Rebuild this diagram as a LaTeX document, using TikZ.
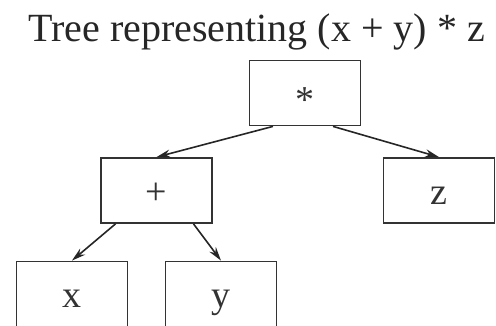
\documentclass[tikz,border=0pt]{standalone}
\usepackage{fontspec}
\setmainfont{Liberation Serif}
\usetikzlibrary{arrows.meta, positioning}

\begin{document}
\begin{tikzpicture}[
    x=1pt, y=1pt,
    term/.style={rectangle, draw=black!80, line width=1.8pt, minimum width=111pt, minimum height=65pt, inner sep=0pt, text height=28pt, text depth=0pt, text=black!80, font=\fontsize{38}{44}\selectfont},
    branch/.style={draw=black!85, line width=1.6pt, -{Stealth[length=14pt, width=8pt]}}
]
    \useasboundingbox (0,0) rectangle (496,326);

    % 标题
    \node[anchor=base, font=\fontsize{40}{46}\selectfont, text=black!85] (title) at (256.5, 284) {Tree representing (x + y) * z};

    % 结点
    \node[term] (mul) at (305, 233) {\raisebox{-6pt}{*}};
    \node[term] (plus) at (156.5, 135.5) {+};
    \node[term] (z) at (439, 135.5) {z};
    \node[term] (x) at (72, 32) {x};
    \node[term] (y) at (221, 32) {y};

    % 边
    \draw[branch] ([xshift=-32pt]mul.south) -- (plus.north);
    \draw[branch] ([xshift=28pt]mul.south) -- (z.north);
    \draw[branch] ([xshift=-41pt]plus.south) -- (x.north);
    \draw[branch] ([xshift=37pt]plus.south) -- (y.north);
\end{tikzpicture}
\end{document}
